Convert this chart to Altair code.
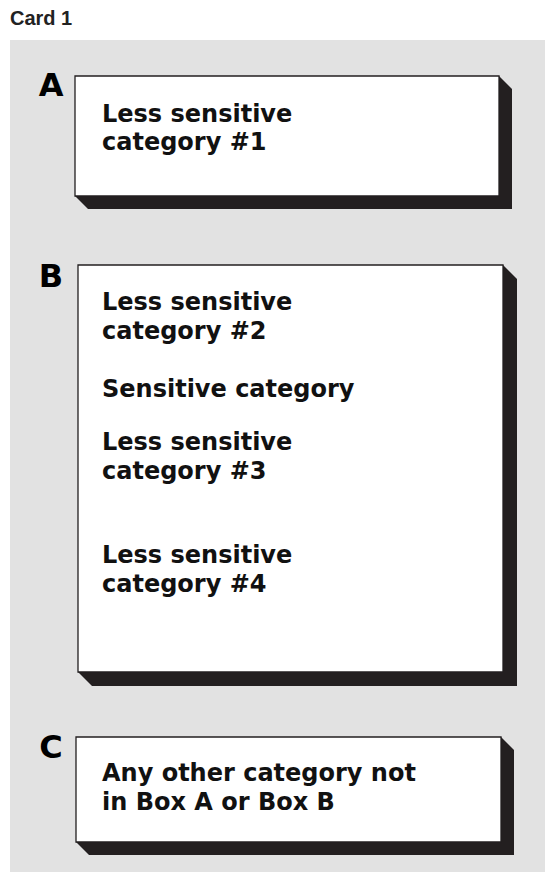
import altair as alt
import pandas as pd

# ---- content ----
card_title = "Card 1"

box_labels = ["A", "B", "C"]
box_left = [75, 78, 76]
box_top = [76, 265, 737]
box_right = [499, 503, 501]
box_bottom = [196, 672, 842]
shadow_depth = [13, 14, 13]
label_baseline = [96, 287, 758]

line_text = [
    "Less sensitive", "category #1",
    "Less sensitive", "category #2",
    "Sensitive category",
    "Less sensitive", "category #3",
    "Less sensitive", "category #4",
    "Any other category not", "in Box A or Box B",
]
line_baseline = [122, 150, 310, 339, 397, 450, 479, 563, 592, 781, 810]
text_left = 102

bg_extent = [10, 40, 545, 872]  # left, top, right, bottom

# ---- frame: page coordinates (the chart starts at the 8px page margin) ----
W, H = 537, 864
xs = alt.Scale(domain=[8, 8 + W], nice=False, zero=False)
ys = alt.Scale(domain=[8, 8 + H], nice=False, zero=False, reverse=True)

bg_df = pd.DataFrame({"x": [bg_extent[0]], "x2": [bg_extent[2]],
                      "y": [bg_extent[1]], "y2": [bg_extent[3]]})

boxes_df = pd.DataFrame({"box": box_labels, "x": box_left, "x2": box_right,
                         "y": box_top, "y2": box_bottom})

rows = []
for b, L, T, R, B, d in zip(box_labels, box_left, box_top, box_right, box_bottom, shadow_depth):
    rows += [
        {"box": b, "x": L, "y": T, "y2": B},
        {"box": b, "x": L + d, "y": T, "y2": B + d},
        {"box": b, "x": R, "y": T, "y2": B + d},
        {"box": b, "x": R + d, "y": T + d, "y2": B + d},
    ]
shadow_df = pd.DataFrame(rows)

lines_df = pd.DataFrame({"text": line_text, "x": [text_left] * len(line_text),
                         "y": line_baseline})
labels_df = pd.DataFrame({"text": box_labels, "x": [51] * 3, "y": label_baseline})
title_df = pd.DataFrame({"text": [card_title], "x": [10], "y": [25]})

dark = "#231f20"

bg = alt.Chart(bg_df).mark_rect(fill="#e2e2e2").encode(
    x=alt.X("x:Q", scale=xs, axis=None), x2="x2:Q",
    y=alt.Y("y:Q", scale=ys, axis=None), y2="y2:Q")

shadow = alt.Chart(shadow_df).mark_area(color=dark, orient="vertical", opacity=1).encode(
    x=alt.X("x:Q", scale=xs, axis=None),
    y=alt.Y("y:Q", scale=ys, axis=None), y2="y2:Q",
    detail="box:N")

box = alt.Chart(boxes_df).mark_rect(fill="white", stroke=dark, strokeWidth=1.3).encode(
    x=alt.X("x:Q", scale=xs, axis=None), x2="x2:Q",
    y=alt.Y("y:Q", scale=ys, axis=None), y2="y2:Q")

lines = alt.Chart(lines_df).mark_text(
    align="left", baseline="alphabetic", font="DejaVu Sans", fontWeight="bold",
    fontSize=24, color="#111111").encode(
    x=alt.X("x:Q", scale=xs, axis=None), y=alt.Y("y:Q", scale=ys, axis=None), text="text:N")

labels = alt.Chart(labels_df).mark_text(
    align="center", baseline="alphabetic", font="DejaVu Sans", fontWeight="bold",
    fontSize=32, color="#000000").encode(
    x=alt.X("x:Q", scale=xs, axis=None), y=alt.Y("y:Q", scale=ys, axis=None), text="text:N")

title = alt.Chart(title_df).mark_text(
    align="left", baseline="alphabetic", font="Liberation Sans", fontWeight="bold",
    fontSize=20, color="#222222").encode(
    x=alt.X("x:Q", scale=xs, axis=None), y=alt.Y("y:Q", scale=ys, axis=None), text="text:N")

chart = alt.layer(bg, shadow, box, lines, labels, title).properties(
    width=W, height=H, padding=0,
    autosize=alt.AutoSizeParams(type="none"),
).configure_view(stroke=None)

chart.save("out.html", embed_options={"renderer": "svg", "actions": False})
